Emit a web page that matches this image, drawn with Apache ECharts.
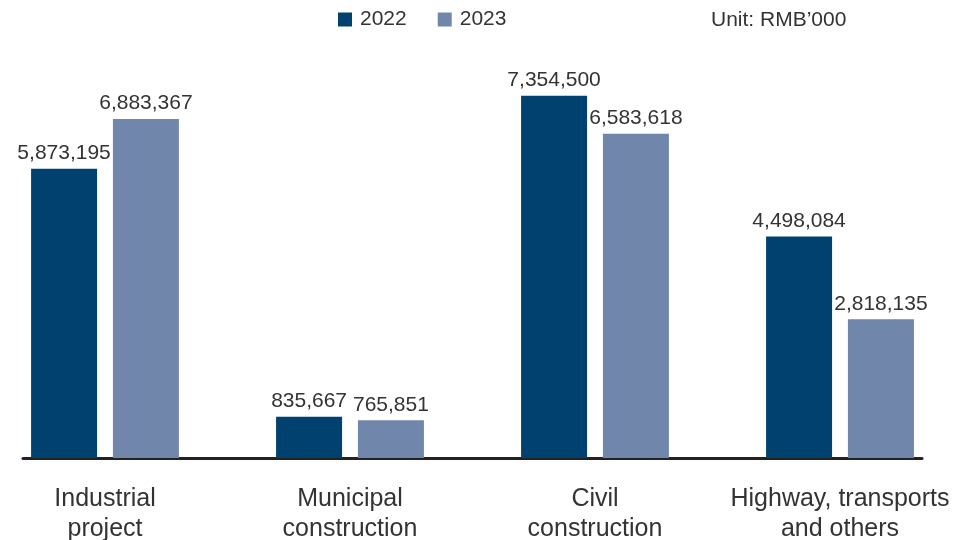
<!DOCTYPE html>
<html><head><meta charset="utf-8">
<script src="https://cdn.jsdelivr.net/npm/echarts@6/dist/echarts.min.js"></script>
<style>html,body{margin:0;padding:0;background:#fff}#c{width:965px;height:540px}</style>
</head><body><div id="c"></div>
<script>
const categories = ['Industrial\nproject', 'Municipal\nconstruction', 'Civil\nconstruction', 'Highway, transports\nand others'];
const series2022 = [5873195, 835667, 7354500, 4498084];
const series2023 = [6883367, 765851, 6583618, 2818135];
const seriesNames = ['2022', '2023'];
const unitText = 'Unit: RMB\u2019000';

const FONT = '"Liberation Sans", Arial, sans-serif';
const chart = echarts.init(document.getElementById('c'));
const fmt = p => p.value.toLocaleString('en-US');
const labelStyle = {show: true, position: 'top', distance: 5, color: '#333', fontSize: 21, fontFamily: FONT, formatter: fmt};
chart.setOption({
  animation: false,
  title: {text: unitText, left: 706, top: 5, textStyle: {fontSize: 21, fontWeight: 'normal', color: '#333', fontFamily: FONT}},
  legend: {left: 333, top: 4, itemWidth: 14, itemHeight: 14, itemGap: 31, icon: 'rect',
    textStyle: {fontSize: 21, color: '#333', fontFamily: FONT, padding: [0,0,0,3]}, data: seriesNames},
  grid: [
    {left: -17.5, width: 980, top: 64, height: 394, containLabel: false, outerBoundsMode: 'none'},
    {left: 23, right: 43, top: 64, height: 394, containLabel: false, outerBoundsMode: 'none'}
  ],
  xAxis: [
    {type: 'category', data: categories, gridIndex: 0, axisLine: {show: false}, axisTick: {show: false},
      axisLabel: {fontSize: 25, lineHeight: 30, color: '#333', fontFamily: FONT, margin: 26, interval: 0}},
    {type: 'value', gridIndex: 1, axisLine: {show: true, lineStyle: {color: '#222', width: 3}}, axisTick: {show: false},
      axisLabel: {show: false}, splitLine: {show: false}}
  ],
  yAxis: [
    {type: 'value', gridIndex: 0, min: 0, max: 8000000, show: false, splitLine: {show: false}},
    {type: 'value', gridIndex: 1, show: false, splitLine: {show: false}}
  ],
  series: [
    {name: seriesNames[0], type: 'bar', data: series2022, barWidth: 66, barGap: '24%', itemStyle: {color: '#01416f'}, label: labelStyle},
    {name: seriesNames[1], type: 'bar', data: series2023, barWidth: 66, barGap: '24%', itemStyle: {color: '#7086ab'}, label: labelStyle}
  ]
});
</script></body></html>
